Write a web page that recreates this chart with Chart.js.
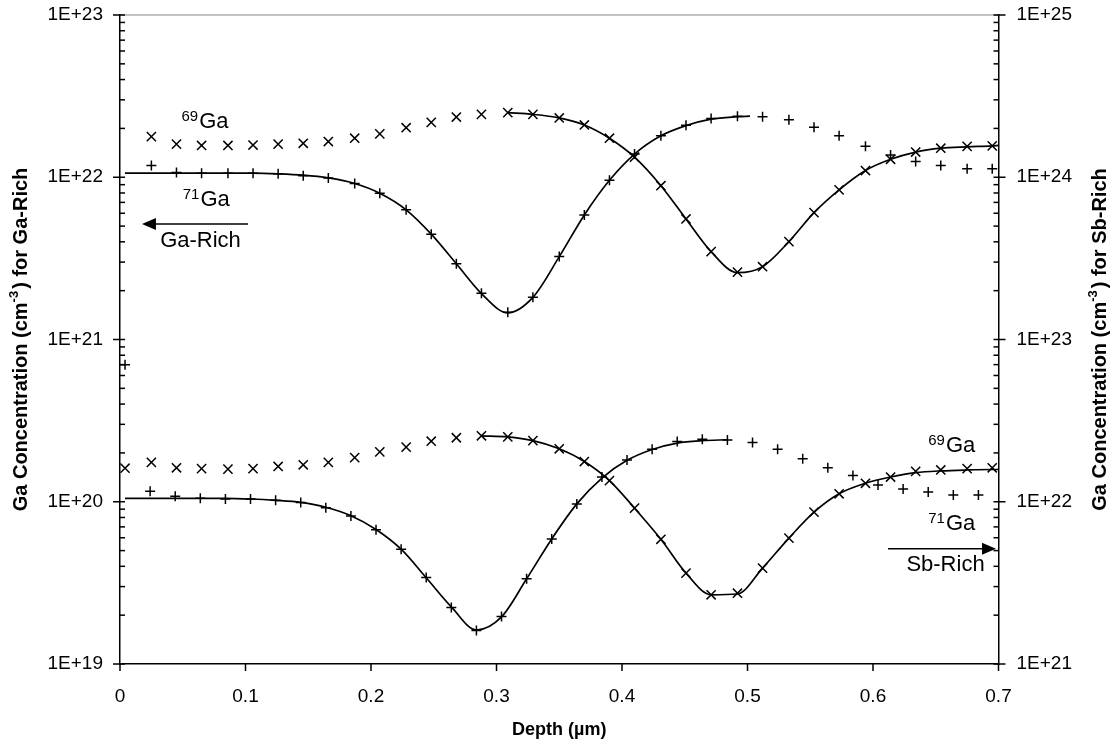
<!DOCTYPE html>
<html>
<head>
<meta charset="utf-8">
<script src="https://cdn.jsdelivr.net/npm/chart.js@4"></script>
<style>
  html, body { margin: 0; padding: 0; background: #fff; overflow: hidden; }
  #graph { display: block; }
</style>
</head>
<body>
<canvas id="graph" width="1111" height="744"></canvas>
<script>
// depth grid of the Ga-rich runs (also the Sb-rich 69Ga run)
var depthGrid = [0.025, 0.045, 0.065, 0.086, 0.106, 0.126, 0.146, 0.166, 0.187, 0.207,
  0.228, 0.248, 0.268, 0.288, 0.309, 0.329, 0.350, 0.370, 0.390, 0.410,
  0.431, 0.451, 0.471, 0.492, 0.512, 0.533, 0.553, 0.573, 0.594, 0.614,
  0.634, 0.654, 0.675, 0.695];

// Ga-rich (left axis)
var ga69GaRich = [1.78e22, 1.60e22, 1.57e22, 1.57e22, 1.58e22, 1.60e22, 1.62e22, 1.66e22, 1.74e22, 1.85e22,
  2.02e22, 2.18e22, 2.35e22, 2.44e22, 2.50e22, 2.44e22, 2.32e22, 2.10e22, 1.74e22, 1.33e22,
  8.87e21, 5.53e21, 3.48e21, 2.60e21, 2.81e21, 4.01e21, 6.05e21, 8.36e21, 1.10e22, 1.29e22,
  1.43e22, 1.51e22, 1.55e22, 1.56e22];
var ga71GaRich = [1.18e22, 1.07e22, 1.06e22, 1.06e22, 1.06e22, 1.05e22, 1.02e22, 9.90e21, 9.14e21, 7.97e21,
  6.30e21, 4.46e21, 2.93e21, 1.93e21, 1.47e21, 1.82e21, 3.25e21, 5.86e21, 9.58e21, 1.39e22,
  1.80e22, 2.09e22, 2.30e22, 2.38e22, 2.36e22, 2.26e22, 2.03e22, 1.80e22, 1.55e22, 1.37e22,
  1.25e22, 1.18e22, 1.13e22, 1.13e22];

var fitDepthGa71 = [0.004, 0.045, 0.065, 0.086, 0.106, 0.126, 0.146, 0.166, 0.187, 0.207, 0.228, 0.248,
  0.268, 0.288, 0.309, 0.329, 0.350, 0.370, 0.390, 0.410, 0.431, 0.451, 0.471, 0.492, 0.502];
var fitGa71GaRich = [1.06e22, 1.06e22, 1.06e22, 1.06e22, 1.06e22, 1.05e22, 1.03e22, 9.90e21, 9.15e21, 7.97e21,
  6.30e21, 4.46e21, 2.93e21, 1.92e21, 1.46e21, 1.82e21, 3.24e21, 5.86e21, 9.58e21, 1.39e22,
  1.80e22, 2.08e22, 2.28e22, 2.36e22, 2.38e22];
var fitDepthGa69 = [0.309, 0.329, 0.350, 0.370, 0.390, 0.410, 0.431, 0.451, 0.471, 0.492, 0.512,
  0.533, 0.553, 0.573, 0.594, 0.614, 0.634, 0.654, 0.675, 0.695, 0.700];
var fitGa69GaRich = [2.50e22, 2.44e22, 2.32e22, 2.10e22, 1.74e22, 1.33e22, 8.87e21, 5.53e21, 3.48e21, 2.58e21, 2.81e21,
  4.01e21, 6.05e21, 8.36e21, 1.10e22, 1.29e22, 1.43e22, 1.51e22, 1.54e22, 1.56e22, 1.57e22];

// Sb-rich (right axis)
var depthSb69 = [0.004].concat(depthGrid);
var ga69SbRich = [1.61e22, 1.75e22, 1.62e22, 1.60e22, 1.59e22, 1.60e22, 1.65e22, 1.69e22, 1.75e22, 1.87e22, 2.03e22,
  2.17e22, 2.36e22, 2.48e22, 2.55e22, 2.51e22, 2.38e22, 2.12e22, 1.77e22, 1.35e22, 9.13e21,
  5.87e21, 3.63e21, 2.67e21, 2.73e21, 3.90e21, 5.97e21, 8.63e21, 1.12e22, 1.30e22, 1.42e22,
  1.54e22, 1.57e22, 1.60e22, 1.62e22];
var depthSb71 = [0.004, 0.024, 0.044, 0.064, 0.084, 0.104, 0.124, 0.144, 0.164, 0.184, 0.204,
  0.224, 0.244, 0.264, 0.284, 0.304, 0.324, 0.344, 0.364, 0.384, 0.404,
  0.424, 0.444, 0.464, 0.484, 0.504, 0.524, 0.544, 0.564, 0.584, 0.604,
  0.624, 0.644, 0.664, 0.684];
var ga71SbRich = [7.0e22, 1.16e22, 1.08e22, 1.05e22, 1.04e22, 1.04e22, 1.02e22, 9.90e21, 9.20e21, 8.18e21, 6.71e21,
  5.10e21, 3.41e21, 2.23e21, 1.61e21, 1.96e21, 3.35e21, 5.90e21, 9.70e21, 1.42e22, 1.81e22,
  2.11e22, 2.35e22, 2.43e22, 2.40e22, 2.32e22, 2.11e22, 1.84e22, 1.62e22, 1.45e22, 1.27e22,
  1.20e22, 1.15e22, 1.10e22, 1.10e22];

var fitDepthSb71 = [0.004, 0.024, 0.044, 0.064, 0.084, 0.104, 0.124, 0.144, 0.164, 0.184, 0.204,
  0.224, 0.244, 0.264, 0.284, 0.304, 0.324, 0.344, 0.364, 0.384, 0.404, 0.424, 0.444, 0.464, 0.484];
var fitGa71SbRich = [1.05e22, 1.05e22, 1.05e22, 1.05e22, 1.05e22, 1.04e22, 1.02e22, 9.90e21, 9.25e21, 8.20e21, 6.75e21,
  5.10e21, 3.40e21, 2.25e21, 1.62e21, 1.95e21, 3.35e21, 5.90e21, 9.70e21, 1.40e22, 1.80e22,
  2.10e22, 2.30e22, 2.38e22, 2.41e22];
var fitDepthSb69 = [0.288, 0.309, 0.329, 0.350, 0.370, 0.390, 0.410, 0.431, 0.451, 0.471, 0.492, 0.512,
  0.533, 0.553, 0.573, 0.594, 0.614, 0.634, 0.654, 0.675, 0.695, 0.700];
var fitGa69SbRich = [2.55e22, 2.51e22, 2.38e22, 2.12e22, 1.77e22, 1.35e22, 9.13e21, 5.87e21, 3.63e21, 2.67e21, 2.70e21, 3.90e21,
  5.97e21, 8.63e21, 1.12e22, 1.30e22, 1.42e22, 1.51e22, 1.55e22, 1.57e22, 1.58e22, 1.58e22];

// axes
var xTicks = [0, 0.1, 0.2, 0.3, 0.4, 0.5, 0.6, 0.7];
var xTickLabels = ["0", "0.1", "0.2", "0.3", "0.4", "0.5", "0.6", "0.7"];
var leftTicks = [1e19, 1e20, 1e21, 1e22, 1e23];
var leftTickLabels = ["1E+19", "1E+20", "1E+21", "1E+22", "1E+23"];
var rightTicks = [1e21, 1e22, 1e23, 1e24, 1e25];
var rightTickLabels = ["1E+21", "1E+22", "1E+23", "1E+24", "1E+25"];
var minorSteps = [2, 3, 4, 5, 6, 7, 8, 9];

// text placed in data coordinates
var isotopeNotes = [
  { iso: "69", el: "Ga", depth: 0.049, conc: 2.01e22, axis: "yL" },
  { iso: "71", el: "Ga", depth: 0.050, conc: 6.65e21, axis: "yL" },
  { iso: "69", el: "Ga", depth: 0.644, conc: 2.04e22, axis: "yR" },
  { iso: "71", el: "Ga", depth: 0.644, conc: 6.70e21, axis: "yR" }
];
var arrowNotes = [
  { text: "Ga-Rich", from: 0.102, to: 0.0175, conc: 5.15e21, textDepth: 0.032, textConc: 3.72e21, axis: "yL" },
  { text: "Sb-Rich", from: 0.612, to: 0.698, conc: 5.13e21, textDepth: 0.6266, textConc: 3.72e21, axis: "yR" }
];

var FONT = '"Liberation Sans", Arial, Helvetica, sans-serif';

function pts(xs, ys) {
  return ys.map(function (v, i) { return { x: xs[i], y: v }; });
}
function markers(xs, ys, axis, style, r) {
  return { data: pts(xs, ys), yAxisID: axis, showLine: false, pointStyle: style,
    pointRadius: r, pointHoverRadius: r, borderColor: "#000", backgroundColor: "#000", pointBorderWidth: 1.5 };
}
function fit(xs, ys, axis) {
  return { data: pts(xs, ys), yAxisID: axis, showLine: true, pointRadius: 0, pointHoverRadius: 0,
    borderColor: "#000", borderWidth: 1.7, fill: false, cubicInterpolationMode: "monotone" };
}
function noPadding(s) {
  s.paddingTop = 0; s.paddingBottom = 0; s.paddingLeft = 0; s.paddingRight = 0;
}

function drawLine(ctx, x1, y1, x2, y2) {
  ctx.beginPath(); ctx.moveTo(x1, y1); ctx.lineTo(x2, y2); ctx.stroke();
}

var decorations = {
  id: "decorations",
  afterDraw: function (chart) {
    var ctx = chart.ctx, a = chart.chartArea;
    var sx = chart.scales.x, yL = chart.scales.yL, yR = chart.scales.yR;
    ctx.save();
    ctx.strokeStyle = "#8a8a8a"; ctx.lineWidth = 1.2;
    drawLine(ctx, a.left, a.top, a.right, a.top);

    ctx.strokeStyle = "#000"; ctx.lineWidth = 1.5;
    leftTicks.forEach(function (v, i) {
      var py = yL.getPixelForValue(v);
      drawLine(ctx, a.left - 7, py, a.left + 5, py);
      if (i < leftTicks.length - 1) minorSteps.forEach(function (m) {
        var my = yL.getPixelForValue(v * m);
        drawLine(ctx, a.left, my, a.left + 5, my);
      });
    });
    rightTicks.forEach(function (v, i) {
      var py = yR.getPixelForValue(v);
      drawLine(ctx, a.right - 5, py, a.right + 7, py);
      if (i < rightTicks.length - 1) minorSteps.forEach(function (m) {
        var my = yR.getPixelForValue(v * m);
        drawLine(ctx, a.right - 5, my, a.right, my);
      });
    });
    xTicks.forEach(function (v) {
      var px = sx.getPixelForValue(v);
      drawLine(ctx, px, a.bottom, px, a.bottom + 7);
    });

    // isotope labels
    ctx.fillStyle = "#000";
    ctx.textBaseline = "alphabetic"; ctx.textAlign = "left";
    isotopeNotes.forEach(function (n) {
      var px = sx.getPixelForValue(n.depth), py = chart.scales[n.axis].getPixelForValue(n.conc);
      ctx.font = "15px " + FONT;
      ctx.fillText(n.iso, px, py - 7);
      var w = ctx.measureText(n.iso).width;
      ctx.font = "22px " + FONT;
      ctx.fillText(n.el, px + w + 1, py);
    });

    // arrows
    arrowNotes.forEach(function (n) {
      var s = chart.scales[n.axis];
      var x1 = sx.getPixelForValue(n.from), x2 = sx.getPixelForValue(n.to), py = s.getPixelForValue(n.conc);
      var dir = x2 > x1 ? 1 : -1;
      ctx.lineWidth = 1.5;
      drawLine(ctx, x1, py, x2 - dir * 10, py);
      ctx.beginPath();
      ctx.moveTo(x2, py);
      ctx.lineTo(x2 - dir * 14, py - 6);
      ctx.lineTo(x2 - dir * 14, py + 6);
      ctx.closePath(); ctx.fill();
      ctx.font = "22px " + FONT;
      ctx.fillText(n.text, sx.getPixelForValue(n.textDepth), s.getPixelForValue(n.textConc));
    });

    // axis titles
    function drawTitle(cx, cy, rot, parts) {
      ctx.save();
      ctx.translate(cx, cy); ctx.rotate(rot);
      ctx.textBaseline = "middle";
      var total = 0;
      parts.forEach(function (p) { ctx.font = "bold " + p.size + "px " + FONT; p.w = ctx.measureText(p.t).width + (p.gap || 0); total += p.w; });
      var x = -total / 2;
      parts.forEach(function (p) {
        ctx.font = "bold " + p.size + "px " + FONT;
        ctx.fillText(p.t, x, p.dy || 0);
        x += p.w;
      });
      ctx.restore();
    }
    var midY = (a.top + a.bottom) / 2;
    drawTitle(21, midY, -Math.PI / 2, [
      { t: "Ga Concentration (cm", size: 20 }, { t: "-3", size: 13, dy: -7, gap: 2 }, { t: ") for Ga-Rich", size: 20 }]);
    drawTitle(1100, midY, -Math.PI / 2, [
      { t: "Ga Concentration (cm", size: 20 }, { t: "-3", size: 13, dy: -7, gap: 2 }, { t: ") for Sb-Rich", size: 20 }]);
    ctx.textBaseline = "alphabetic"; ctx.textAlign = "center";
    ctx.font = "bold 18px " + FONT;
    ctx.fillText("Depth (\u00b5m)", (a.left + a.right) / 2, 735);
    ctx.restore();
  }
};

var config = {
  type: "scatter",
  data: {
    datasets: [
      fit(fitDepthGa71, fitGa71GaRich, "yL"),
      fit(fitDepthGa69, fitGa69GaRich, "yL"),
      fit(fitDepthSb71, fitGa71SbRich, "yR"),
      fit(fitDepthSb69, fitGa69SbRich, "yR"),
      markers(depthGrid, ga69GaRich, "yL", "crossRot", 6.5),
      markers(depthGrid, ga71GaRich, "yL", "cross", 5),
      markers(depthSb69, ga69SbRich, "yR", "crossRot", 6.5),
      markers(depthSb71, ga71SbRich, "yR", "cross", 5)
    ]
  },
  options: {
    responsive: false,
    devicePixelRatio: 1,
    animation: false,
    layout: { padding: { top: 15, left: 0, right: 0, bottom: 0 } },
    plugins: { legend: { display: false }, tooltip: { enabled: false } },
    scales: {
      x: {
        type: "linear", min: 0, max: 0.7,
        afterBuildTicks: function (s) { s.ticks = xTicks.map(function (v) { return { value: v }; }); },
        afterFit: function (s) { s.height = 80; noPadding(s); },
        ticks: { callback: function (v, i) { return xTickLabels[i]; }, color: "#000", padding: 13, maxRotation: 0,
          font: { family: FONT, size: 19 } },
        grid: { display: false },
        border: { display: true, color: "#000", width: 1.5 }
      },
      yL: {
        type: "logarithmic", position: "left", min: 1e19, max: 1e23,
        afterBuildTicks: function (s) { s.ticks = leftTicks.map(function (v) { return { value: v }; }); },
        afterFit: function (s) { s.width = 120; noPadding(s); },
        ticks: { callback: function (v, i) { return leftTickLabels[i]; }, color: "#000", padding: 9,
          font: { family: FONT, size: 19 } },
        grid: { display: false },
        border: { display: true, color: "#000", width: 1.5 }
      },
      yR: {
        type: "logarithmic", position: "right", min: 1e21, max: 1e25,
        afterBuildTicks: function (s) { s.ticks = rightTicks.map(function (v) { return { value: v }; }); },
        afterFit: function (s) { s.width = 112.5; noPadding(s); },
        ticks: { callback: function (v, i) { return rightTickLabels[i]; }, color: "#000", padding: 10,
          font: { family: FONT, size: 19 } },
        grid: { display: false },
        border: { display: true, color: "#000", width: 1.5 }
      }
    }
  },
  plugins: [decorations]
};

new Chart(document.getElementById("graph"), config);
</script>
</body>
</html>
